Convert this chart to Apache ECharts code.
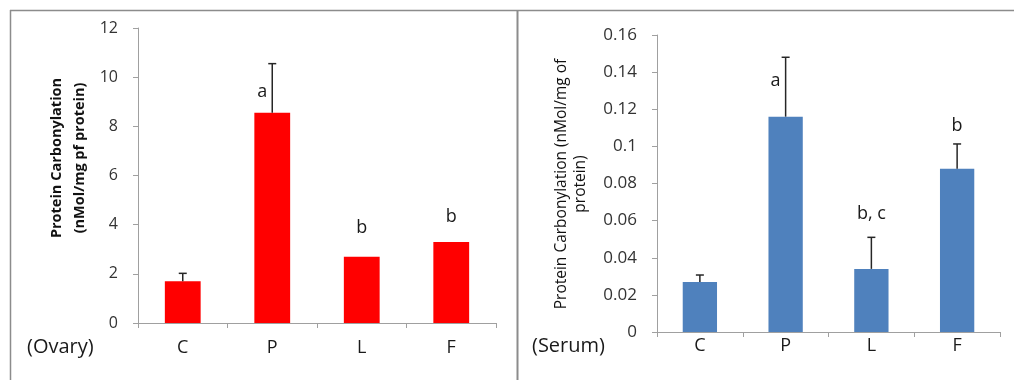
<!doctype html>
<html>
  <head>
    <meta charset="utf-8">
    <title>Protein Carbonylation</title>
    <script src="https://cdn.jsdelivr.net/npm/echarts@6/dist/echarts.min.js"></script>
    <style>
      html, body { margin: 0; padding: 0; background: #fff; }
      #main { width: 1014px; height: 380px; }
    </style>
  </head>
  <body>
    <div id="main"></div>
    <script type="text/javascript">
      // groups on the x axis
      var categories = ['C', 'P', 'L', 'F'];

      // ovary panel (left)
      var ovaryMean = [1.7, 8.55, 2.7, 3.3];
      var ovaryErr = [0.32, 2.0, 0, 0];
      var ovaryLetters = ['', 'a', 'b', 'b'];
      var ovaryLetterAt = [0, 9.4, 3.85, 4.3];
      var ovaryTicks = [0, 2, 4, 6, 8, 10, 12];

      // serum panel (right)
      var serumMean = [0.027, 0.116, 0.034, 0.088];
      var serumErr = [0.0037, 0.032, 0.017, 0.0133];
      var serumLetters = ['', 'a', 'b, c', 'b'];
      var serumLetterAt = [0, 0.1354, 0.0636, 0.111];
      var serumTicks = [0, 0.02, 0.04, 0.06, 0.08, 0.1, 0.12, 0.14, 0.16];

      var font = "'Open Sans', 'Noto Sans', sans-serif";
      var axisGrey = '#a0a0a0';
      var textGrey = '#333';

      // error bar + letter drawn at a category from (mean, err, letter, letterAt)
      function errRender(params, api) {
        var i = api.value(0);
        var mean = api.value(1);
        var err = api.value(2);
        var letterAt = api.value(3);
        var letter = api.value(4);
        var children = [];
        var base = api.coord([i, mean]);
        var top = api.coord([i, mean + err]);
        if (err > 0) {
          children.push({
            type: 'line',
            shape: { x1: base[0], y1: base[1], x2: top[0], y2: top[1] },
            style: { stroke: '#262626', lineWidth: 1.5 }
          });
          children.push({
            type: 'line',
            shape: { x1: top[0] - 4, y1: top[1], x2: top[0] + 4, y2: top[1] },
            style: { stroke: '#262626', lineWidth: 1.5 }
          });
        }
        if (letter) {
          var p = api.coord([i, letterAt]);
          // letter sits beside the error bar when the bar goes past it
          var dx = (mean + err > letterAt) ? -10 : 0;
          children.push({
            type: 'text',
            x: p[0] + dx,
            y: p[1],
            style: {
              text: letter,
              fill: '#1a1a1a',
              font: '18px ' + font,
              align: 'center',
              verticalAlign: 'middle'
            }
          });
        }
        return { type: 'group', children: children };
      }

      function rows(mean, err, letterAt, letters) {
        return categories.map(function (c, i) {
          return [i, mean[i], err[i], letterAt[i], letters[i]];
        });
      }

      function yAxisOf(ticks, gridIndex, labelSize) {
        return {
          type: 'value',
          gridIndex: gridIndex,
          min: ticks[0],
          max: ticks[ticks.length - 1],
          interval: ticks[1] - ticks[0],
          splitLine: { show: false },
          axisLine: { show: true, lineStyle: { color: axisGrey, width: 1 } },
          axisTick: { show: true, length: 5, lineStyle: { color: axisGrey } },
          axisLabel: {
            color: textGrey, fontSize: labelSize, fontFamily: font, margin: 20,
            formatter: function (v) { return String(+v.toFixed(4)); }
          }
        };
      }

      function xAxisOf(gridIndex, margin) {
        return {
          type: 'category',
          gridIndex: gridIndex,
          data: categories,
          axisLine: { show: true, lineStyle: { color: axisGrey, width: 1 } },
          axisTick: { show: true, length: 5, lineStyle: { color: axisGrey } },
          axisLabel: { color: '#1a1a1a', fontSize: 18, fontFamily: font, margin: margin }
        };
      }

      var myChart = echarts.init(document.getElementById('main'));
      var option = {
        animation: false,
        grid: [
          { left: 138, right: 518, top: 28, bottom: 57 },
          { left: 657, right: 14, top: 35, bottom: 48 }
        ],
        xAxis: [xAxisOf(0, 16), xAxisOf(1, 5)],
        yAxis: [yAxisOf(ovaryTicks, 0, 16), yAxisOf(serumTicks, 1, 17)],
        graphic: [
          { type: 'line', shape: { x1: 10, y1: 10.5, x2: 1014, y2: 10.5 }, style: { stroke: '#8c8c8c', lineWidth: 1.5 } },
          { type: 'line', shape: { x1: 10.5, y1: 10, x2: 10.5, y2: 380 }, style: { stroke: '#8c8c8c', lineWidth: 1.5 } },
          { type: 'line', shape: { x1: 517.5, y1: 10, x2: 517.5, y2: 380 }, style: { stroke: '#8c8c8c', lineWidth: 2 } },
          {
            type: 'text', x: 68, y: 158, rotation: Math.PI / 2,
            style: {
              text: 'Protein Carbonylation\n(nMol/mg pf protein)',
              font: 'bold 14.5px ' + font, fill: '#111', lineHeight: 23,
              align: 'center', verticalAlign: 'middle'
            }
          },
          {
            type: 'text', x: 571, y: 184, rotation: Math.PI / 2,
            style: {
              text: 'Protein Carbonylation (nMol/mg of\nprotein)',
              font: '15.5px ' + font, fill: '#111', lineHeight: 19,
              align: 'center', verticalAlign: 'middle'
            }
          },
          { type: 'text', left: 27, top: 337, style: { text: '(Ovary)', font: '20px ' + font, fill: '#1a1a1a' } },
          { type: 'text', left: 532, top: 336, style: { text: '(Serum)', font: '20px ' + font, fill: '#1a1a1a' } }
        ],
        series: [
          {
            type: 'bar',
            xAxisIndex: 0,
            yAxisIndex: 0,
            barWidth: '40%',
            data: ovaryMean,
            itemStyle: { color: '#ff0000' }
          },
          {
            type: 'custom',
            xAxisIndex: 0,
            yAxisIndex: 0,
            renderItem: errRender,
            data: rows(ovaryMean, ovaryErr, ovaryLetterAt, ovaryLetters),
            z: 5
          },
          {
            type: 'bar',
            xAxisIndex: 1,
            yAxisIndex: 1,
            barWidth: '40%',
            data: serumMean,
            itemStyle: { color: '#4f81bd' }
          },
          {
            type: 'custom',
            xAxisIndex: 1,
            yAxisIndex: 1,
            renderItem: errRender,
            data: rows(serumMean, serumErr, serumLetterAt, serumLetters),
            z: 5
          }
        ]
      };
      myChart.setOption(option);
    </script>
  </body>
</html>
